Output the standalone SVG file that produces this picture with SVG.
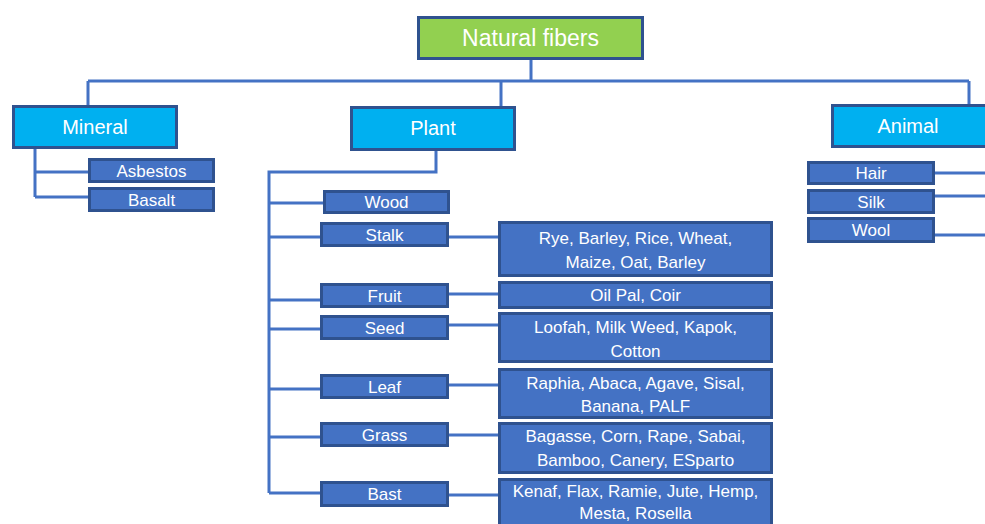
<svg xmlns="http://www.w3.org/2000/svg" width="985" height="524" viewBox="0 0 985 524">
<style>
.ln{fill:none;stroke:#4472C4;stroke-width:3}
.top{fill:#92D050;stroke:#2F528F;stroke-width:3}
.cat{fill:#00B0F0;stroke:#2F528F;stroke-width:3}
.sub{fill:#4472C4;stroke:#2F528F;stroke-width:3}
text{font-family:"Liberation Sans",Arial,sans-serif;fill:#fff;text-anchor:middle}
.t1{font-size:23px}
.t2{font-size:20px}
.t3{font-size:17px}
</style>
<rect width="985" height="524" fill="#fff"/>
<g id="connectors">
<path class="ln" d="M531 60V81M88 81H969M88 81V105M501 81V106M969 81V104"/>
<path class="ln" d="M35 149V197M35 172H88M35 197H88"/>
<path class="ln" d="M436 151V172H269V493M269 203H323M269 237H320M269 300H320M269 329H320M269 389H320M269 437H320M269 493H320"/>
<path class="ln" d="M449 237H498M449 294H498M449 325H498M449 385H498M449 435H498M449 495H498"/>
<path class="ln" d="M935 173H985M935 196H985M935 235H985"/>
</g>
<g id="natural-fibers"><rect class="top" x="418.5" y="17.5" width="224" height="41"/><text class="t1" x="530.5" y="46">Natural fibers</text></g>
<g id="mineral"><rect class="cat" x="13.5" y="106.5" width="163" height="41"/><text class="t2" x="95" y="134">Mineral</text></g>
<g id="plant"><rect class="cat" x="351.5" y="107.5" width="163" height="42"/><text class="t2" x="433" y="135">Plant</text></g>
<g id="animal"><rect class="cat" x="832.5" y="105.5" width="160" height="41"/><text class="t2" x="908" y="133">Animal</text></g>
<g id="asbestos"><rect class="sub" x="89.5" y="159.5" width="124" height="22"/><text class="t3" x="151.5" y="176.5">Asbestos</text></g>
<g id="basalt"><rect class="sub" x="89.5" y="188.5" width="124" height="22"/><text class="t3" x="151.5" y="205.5">Basalt</text></g>
<g id="wood"><rect class="sub" x="324.5" y="191.5" width="124" height="21"/><text class="t3" x="386.5" y="208">Wood</text></g>
<g id="stalk"><rect class="sub" x="321.5" y="223.5" width="126" height="22"/><text class="t3" x="384.5" y="240.5">Stalk</text></g>
<g id="fruit"><rect class="sub" x="321.5" y="284.5" width="126" height="22"/><text class="t3" x="384.5" y="301.5">Fruit</text></g>
<g id="seed"><rect class="sub" x="321.5" y="316.5" width="126" height="22"/><text class="t3" x="384.5" y="333.5">Seed</text></g>
<g id="leaf"><rect class="sub" x="321.5" y="375.5" width="126" height="22"/><text class="t3" x="384.5" y="392.5">Leaf</text></g>
<g id="grass"><rect class="sub" x="321.5" y="423.5" width="126" height="22"/><text class="t3" x="384.5" y="440.5">Grass</text></g>
<g id="bast"><rect class="sub" x="321.5" y="482.5" width="126" height="23"/><text class="t3" x="384.5" y="500">Bast</text></g>
<g id="hair"><rect class="sub" x="808.5" y="162.5" width="125" height="21"/><text class="t3" x="871" y="179">Hair</text></g>
<g id="silk"><rect class="sub" x="808.5" y="190.5" width="125" height="22"/><text class="t3" x="871" y="207.5">Silk</text></g>
<g id="wool"><rect class="sub" x="808.5" y="218.5" width="125" height="23"/><text class="t3" x="871" y="236">Wool</text></g>
<g id="stalk-list"><rect class="sub" x="499.5" y="222.5" width="272" height="53"/><text class="t3" x="635.5" y="244">Rye, Barley, Rice, Wheat,</text><text class="t3" x="635.5" y="268">Maize, Oat, Barley</text></g>
<g id="fruit-list"><rect class="sub" x="499.5" y="282.5" width="272" height="25"/><text class="t3" x="635.5" y="301">Oil Pal, Coir</text></g>
<g id="seed-list"><rect class="sub" x="499.5" y="313.5" width="272" height="48"/><text class="t3" x="635.5" y="333">Loofah, Milk Weed, Kapok,</text><text class="t3" x="635.5" y="357">Cotton</text></g>
<g id="leaf-list"><rect class="sub" x="499.5" y="369.5" width="272" height="48"/><text class="t3" x="635.5" y="389">Raphia, Abaca, Agave, Sisal,</text><text class="t3" x="635.5" y="412">Banana, PALF</text></g>
<g id="grass-list"><rect class="sub" x="499.5" y="423.5" width="272" height="49"/><text class="t3" x="635.5" y="442">Bagasse, Corn, Rape, Sabai,</text><text class="t3" x="635.5" y="466">Bamboo, Canery, ESparto</text></g>
<g id="bast-list"><rect class="sub" x="499.5" y="479.5" width="272" height="50"/><text class="t3" x="635.5" y="497">Kenaf, Flax, Ramie, Jute, Hemp,</text><text class="t3" x="635.5" y="519">Mesta, Rosella</text></g>
</svg>
